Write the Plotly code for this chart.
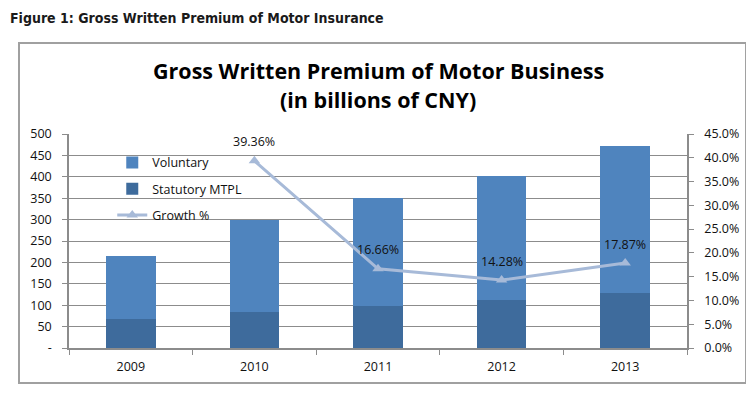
import plotly.graph_objects as go

years = ["2009", "2010", "2011", "2012", "2013"]
statutory = [67, 84, 98, 112, 128]
voluntary = [148, 216, 252, 290, 344]
growth_years = ["2010", "2011", "2012", "2013"]
growth = [0.3936, 0.1666, 0.1428, 0.1787]
left_tickvals = [0, 50, 100, 150, 200, 250, 300, 350, 400, 450, 500]
left_ticktext = ["-", "50", "100", "150", "200", "250", "300", "350", "400", "450", "500"]

FONT = "Open Sans"
fig = go.Figure()
fig.add_trace(go.Bar(x=years, y=statutory, name="Statutory MTPL", marker_color="#3E6B9C",
                     marker_line_width=0, legendgroup="b", legendrank=2))
fig.add_trace(go.Bar(x=years, y=voluntary, name="Voluntary", marker_color="#4F84BE",
                     marker_line_width=0, legendgroup="a", legendrank=1))
fig.add_trace(go.Scatter(x=growth_years, y=growth, name="Growth %", yaxis="y2",
                         mode="lines+markers", line=dict(color="#A7BAD8", width=3),
                         marker=dict(symbol="triangle-up", size=10, color="#A7BAD8"),
                         legendgroup="c", legendrank=3))

for xv, gv in zip(growth_years, growth):
    fig.add_annotation(x=years.index(xv), y=gv, xref="x", yref="y2", text=f"{gv*100:.2f}%",
                       showarrow=False, yshift=19, font=dict(family=FONT, size=12.5, color="#111"))

fig.add_annotation(xref="paper", yref="paper", x=0.5, y=1.299, xanchor="center", yanchor="middle",
                   text="<b>Gross Written Premium of Motor Business</b>",
                   showarrow=False, font=dict(family=FONT, size=21.5, color="#000"))
fig.add_annotation(xref="paper", yref="paper", x=0.5, y=1.159, xanchor="center", yanchor="middle",
                   text="<b>(in billions of CNY)</b>",
                   showarrow=False, font=dict(family=FONT, size=21.5, color="#000"))
fig.add_annotation(xref="paper", yref="paper", x=-0.0987, y=1.542, xanchor="left", yanchor="middle",
                   text="<b>Figure 1: Gross Written Premium of Motor Insurance</b>",
                   showarrow=False, font=dict(family="DejaVu Sans Condensed", size=14, color="#1a1a1a"))

fig.add_shape(type="rect", xref="paper", yref="paper", x0=-0.0809, x1=1.0955, y0=-0.1636, y1=1.4252,
              line=dict(color="#A0A0A0", width=2), layer="below")

fig.update_layout(
    width=746, height=389,
    margin=dict(l=61, r=67, t=126, b=49, autoexpand=False),
    paper_bgcolor="white", plot_bgcolor="white",
    barmode="stack", bargap=0.6,
    font=dict(family=FONT, size=12, color="#111"),
    legend=dict(x=0.07, y=0.935, xanchor="left", yanchor="top", bgcolor="rgba(0,0,0,0)",
                tracegroupgap=7, font=dict(family=FONT, size=12.5, color="#111"),
                traceorder="grouped"),
    xaxis=dict(type="category", categoryorder="array", categoryarray=years, range=[-0.5, 4.5],
               showline=True, linecolor="#8C8C8C", linewidth=1.5, ticks="outside",
               tickson="boundaries", ticklen=5, tickcolor="#8C8C8C", showgrid=False,
               ticklabelstandoff=6, tickangle=0, tickfont=dict(size=12.5)),
    yaxis=dict(range=[0, 500], tickvals=left_tickvals, ticktext=left_ticktext,
               showline=True, linecolor="#8C8C8C", linewidth=1.5, ticks="outside", ticklen=5,
               tickcolor="#8C8C8C", gridcolor="#8C8C8C", gridwidth=1, zeroline=False,
               ticklabelstandoff=8, tickfont=dict(size=12.5)),
    yaxis2=dict(range=[0, 0.45], dtick=0.05, tickformat=".1%", overlaying="y", side="right",
                showline=True, linecolor="#8C8C8C", linewidth=1.5, ticks="outside", ticklen=5,
                tickcolor="#8C8C8C", showgrid=False, zeroline=False, ticklabelstandoff=8,
                tickfont=dict(size=12.5)),
)
fig.write_html("out.html")
